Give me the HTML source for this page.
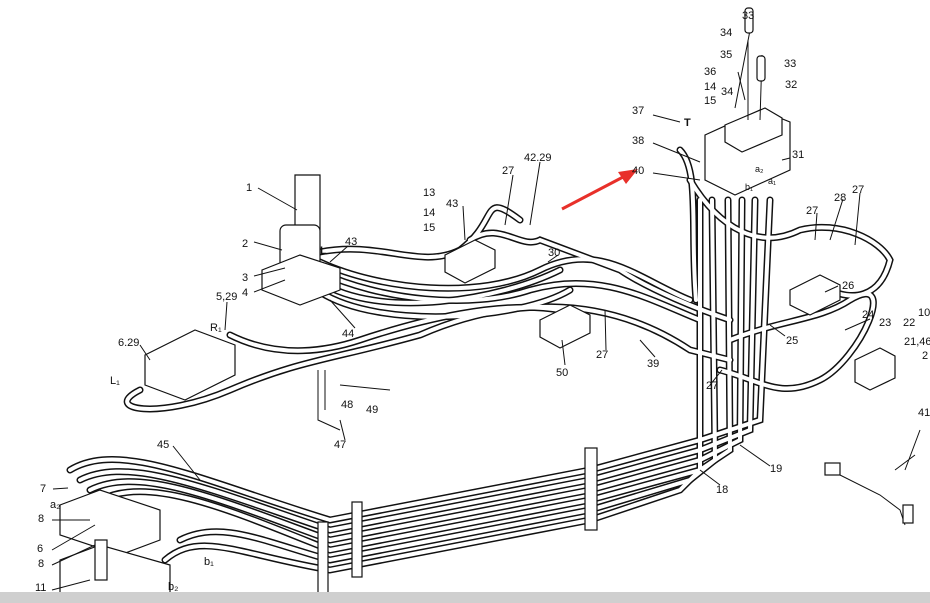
<!DOCTYPE html>
<html><head><meta charset="utf-8"><style>
html,body{margin:0;padding:0;background:#fff;width:930px;height:603px;overflow:hidden}
svg{display:block}
text{font-family:"Liberation Sans",sans-serif;font-size:11px;fill:#111}
.h{fill:none;stroke:#111;stroke-width:7;stroke-linecap:round}
.hi{fill:none;stroke:#fff;stroke-width:4;stroke-linecap:round}
.l{fill:none;stroke:#111;stroke-width:1}
.p{fill:#fff;stroke:#111;stroke-width:1.2}
</style></head><body>
<svg width="930" height="603" viewBox="0 0 930 603">
<defs>
<g id="hoses">
<!-- bottom long bundle -->
<path d="M70,470 C120,440 200,480 330,520 L590,470 L700,440 L760,420 L770,200"/>
<path d="M80,480 C130,455 210,490 330,530 L590,480 L700,450 L750,430 L755,200"/>
<path d="M90,490 C140,465 220,500 330,540 L590,490 L700,460 L740,440 L742,200"/>
<path d="M100,500 C150,475 230,510 330,550 L590,500 L700,470 L730,450 L728,200"/>
<path d="M180,540 C220,520 260,540 330,560 L590,510 L690,480 L715,460 L712,200"/>
<path d="M165,560 C200,530 240,555 330,570 L590,520 L680,490 L700,470 L700,200"/>
<!-- upper hoses -->
<path d="M320,262 C380,290 480,300 540,270 C600,240 640,280 690,300"/>
<path d="M320,272 C380,300 470,310 530,290 C600,270 650,300 700,320"/>
<path d="M320,282 C380,320 500,300 560,270"/>
<path d="M320,292 C380,330 520,320 570,290"/>
<path d="M320,252 C380,240 420,270 460,250 C500,220 480,190 520,220"/>
<path d="M230,335 C280,360 330,350 360,340 C420,320 500,300 560,310"/>
<path d="M140,390 C100,410 160,420 230,390 C300,360 330,360 420,335 C500,300 600,290 690,350 L730,360"/>
<path d="M470,240 C500,220 520,250 540,240 L620,270 C650,290 700,310 730,320"/>
<path d="M690,180 C720,230 760,250 800,230 C840,220 880,240 890,260 C880,300 850,300 830,290"/>
<path d="M680,150 C700,170 690,230 696,300"/>
<path d="M730,340 C780,320 820,320 850,300 C900,270 860,360 820,380 C780,400 760,380 720,370"/>
</g>
</defs>
<g class="h"><use href="#hoses"/></g>
<g class="hi"><use href="#hoses"/></g>

<!-- clamp blocks -->
<rect class="p" x="585" y="448" width="12" height="82"/>
<rect class="p" x="318" y="522" width="10" height="75"/>
<rect class="p" x="352" y="502" width="10" height="75"/>

<!-- cylinder 1 -->
<path class="p" d="M295,175 L295,230 C295,240 320,240 320,230 L320,175 Z"/>
<rect class="p" x="280" y="225" width="40" height="45" rx="6"/>
<path class="p" d="M262,270 L300,255 L340,268 L340,290 L300,305 L262,290 Z"/>
<!-- valve left 6.29 -->
<path class="p" d="M145,355 L195,330 L235,345 L235,375 L185,400 L145,385 Z"/>
<!-- valve 43 -->
<path class="p" d="M445,255 L475,240 L495,250 L495,268 L465,283 L445,272 Z"/>
<!-- valve 50 -->
<path class="p" d="M540,320 L570,305 L590,315 L590,333 L560,348 L540,337 Z"/>
<!-- block 26 -->
<path class="p" d="M790,290 L820,275 L840,285 L840,300 L810,315 L790,305 Z"/>
<!-- block 21 -->
<path class="p" d="M855,360 L880,348 L895,356 L895,378 L870,390 L855,382 Z"/>
<!-- control valve top -->
<path class="p" d="M705,135 L760,110 L790,122 L790,170 L735,195 L705,180 Z"/>
<path class="p" d="M725,125 L765,108 L782,118 L782,135 L742,152 L725,142 Z"/>
<path class="l" d="M760,120 L762,55 M748,120 L748,40 M735,108 L752,20" stroke-width="3"/>
<rect class="p" x="745" y="8" width="8" height="25" rx="3"/>
<rect class="p" x="757" y="56" width="8" height="25" rx="3"/>
<!-- bottom left blocks -->
<path class="p" d="M60,505 L100,490 L160,510 L160,540 L120,555 L60,535 Z"/>
<path class="p" d="M60,560 L100,545 L170,565 L170,595 L60,595 Z"/>
<rect class="p" x="95" y="540" width="12" height="40"/>
<!-- bracket 47 -->
<path class="l" d="M318,370 L318,420 L340,430 M325,370 L325,410" stroke-width="2"/>
<path class="l" d="M340,385 L390,390" stroke-width="2"/>
<!-- right item 41 -->
<path class="l" d="M830,470 L880,495 L900,510 L905,525 M920,430 L905,470 M915,455 L895,470" stroke-width="2"/>
<rect class="p" x="825" y="463" width="15" height="12"/>
<rect class="p" x="903" y="505" width="10" height="18"/>

<!-- leader lines -->
<g class="l">
<path d="M258,188 L297,210 M254,242 L282,250 M254,276 L285,268 M254,292 L285,280 M227,302 L225,330 M140,345 L150,360 M348,246 L330,262 M355,328 L330,300 M463,206 L465,240 M513,175 L505,225 M540,162 L530,225 M558,255 L548,262 M653,143 L700,162 M653,115 L680,122 M653,173 L700,180 M790,158 L782,160 M843,199 L830,240 M860,193 L855,245 M817,213 L815,240 M838,286 L825,292 M785,336 L770,325 M870,319 L845,330 M710,385 L722,370 M655,357 L640,340 M606,350 L605,310 M565,365 L562,340 M173,446 L200,480 M53,489 L68,488 M52,520 L90,520 M52,550 L95,525 M52,565 L95,545 M52,590 L90,580 M345,440 L340,420 M720,485 L700,470 M770,466 L740,445 M738,72 L745,100"/>
</g>

<!-- red arrow -->
<line x1="562" y1="209" x2="625" y2="176" stroke="#e8302a" stroke-width="3"/>
<polygon points="638,169 618,172 626,184" fill="#e8302a"/>

<!-- labels -->
<text x="742" y="19">33</text><text x="720" y="36">34</text><text x="720" y="58">35</text>
<text x="784" y="67">33</text><text x="785" y="88">32</text><text x="704" y="75">36</text>
<text x="704" y="90">14</text><text x="704" y="104">15</text><text x="721" y="95">34</text>
<text x="632" y="114">37</text><text x="684" y="126" style="font-weight:bold">T</text>
<text x="632" y="144">38</text><text x="632" y="174">40</text><text x="792" y="158">31</text>
<text x="834" y="201">28</text><text x="852" y="193">27</text><text x="806" y="214">27</text>
<text x="842" y="289">26</text><text x="862" y="318">24</text><text x="879" y="326">23</text>
<text x="903" y="326">22</text><text x="918" y="316">10</text><text x="904" y="345">21,46</text>
<text x="922" y="359">2</text><text x="786" y="344">25</text><text x="706" y="389">27</text>
<text x="647" y="367">39</text><text x="596" y="358">27</text><text x="556" y="376">50</text>
<text x="548" y="256">30</text><text x="524" y="161">42.29</text><text x="502" y="174">27</text>
<text x="446" y="207">43</text><text x="423" y="196">13</text><text x="423" y="216">14</text>
<text x="423" y="231">15</text><text x="345" y="245">43</text><text x="246" y="191">1</text>
<text x="242" y="247">2</text><text x="242" y="281">3</text><text x="242" y="296">4</text>
<text x="320" y="254" style="font-weight:bold">L</text><text x="216" y="300">5,29</text>
<text x="210" y="331">R₁</text><text x="118" y="346">6.29</text><text x="110" y="384">L₁</text>
<text x="342" y="337">44</text><text x="341" y="408">48</text><text x="366" y="413">49</text>
<text x="334" y="448">47</text><text x="157" y="448">45</text><text x="40" y="492">7</text>
<text x="50" y="508">a₂</text><text x="38" y="522">8</text><text x="37" y="552">6</text>
<text x="38" y="567">8</text><text x="35" y="591">11</text><text x="168" y="590">b₂</text>
<text x="204" y="565">b₁</text><text x="716" y="493">18</text><text x="770" y="472">19</text>
<text x="918" y="416">41</text>
<text x="755" y="172" style="font-size:9px">a₂</text><text x="768" y="184" style="font-size:9px">a₁</text>
<text x="745" y="190" style="font-size:9px">b₁</text>

<!-- bottom gray bar -->
<rect x="0" y="592" width="930" height="11" fill="#cfcfcf"/>
</svg>
</body></html>
